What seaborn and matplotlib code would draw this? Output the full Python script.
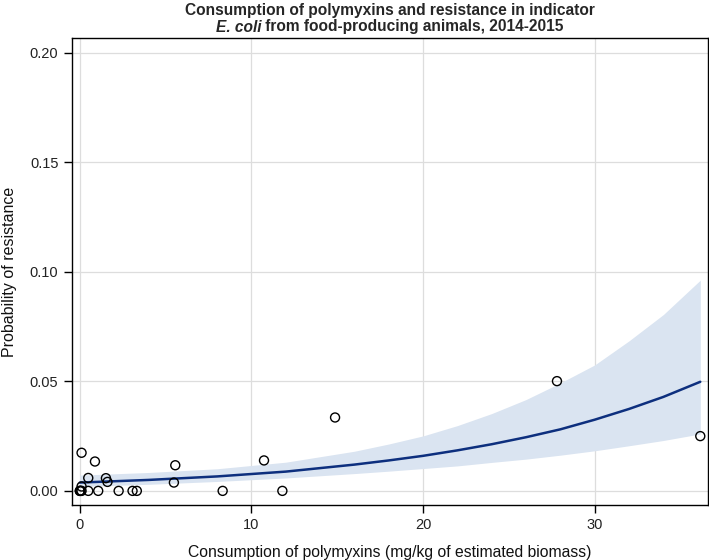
import numpy as np
import pandas as pd
import matplotlib
matplotlib.use("Agg")
import matplotlib.pyplot as plt
import seaborn as sns

# ----------------------------
# Data
# ----------------------------
consumption = [0.0, 0.0, 0.05, 0.1, 0.1, 0.1, 0.49, 0.49, 0.88, 1.07, 1.52, 1.61,
               2.26, 3.07, 3.32, 5.48, 5.56, 8.32, 10.73, 11.8, 14.87, 27.8, 36.15]
resistance = [0.0, 0.0, 0.0, 0.0, 0.0174, 0.002, 0.0, 0.0059, 0.0134, 0.0, 0.0058, 0.0041,
              0.0, 0.0, 0.0, 0.0038, 0.0117, 0.0, 0.0139, 0.0, 0.0335, 0.0501, 0.025]

# fitted curve and confidence band
fit_x = [0, 4, 8, 12, 16, 18, 20, 22, 24, 26, 28, 30, 32, 34, 36.15]
fit_y = [0.0038, 0.0050, 0.0066, 0.0088, 0.0120, 0.0139, 0.0160, 0.0185, 0.0213,
         0.0245, 0.0281, 0.0325, 0.0374, 0.0429, 0.0498]
fit_upper = [0.0072, 0.0084, 0.0101, 0.0131, 0.0181, 0.0214, 0.0251, 0.0298, 0.0353,
             0.0417, 0.0493, 0.0575, 0.0685, 0.0805, 0.0962]
fit_lower = [0.0020, 0.0030, 0.0043, 0.0059, 0.0079, 0.0090, 0.0102, 0.0114, 0.0130,
             0.0145, 0.0163, 0.0183, 0.0206, 0.0230, 0.0260]

x_ticks = [0, 10, 20, 30]
y_ticks = [0.00, 0.05, 0.10, 0.15, 0.20]

points = pd.DataFrame({"consumption": consumption, "resistance": resistance})
fit = pd.DataFrame({"x": fit_x, "y": fit_y, "lo": fit_lower, "hi": fit_upper})

# ----------------------------
# Style
# ----------------------------
sns.set_theme(style="whitegrid")
plt.rcParams["font.family"] = ["Liberation Sans", "DejaVu Sans"]

fig = plt.figure(figsize=(7.09, 5.6), dpi=100)
ax = fig.add_axes([0.101, 0.098, 0.8976, 0.834])

ax.fill_between(fit["x"], fit["lo"], fit["hi"], color="#dae4f1", linewidth=0, zorder=1)
sns.lineplot(data=fit, x="x", y="y", color="#0d2f7e", linewidth=1.8, ax=ax, zorder=3)
sns.scatterplot(data=points, x="consumption", y="resistance", ax=ax, s=42,
                facecolor="none", edgecolor="black", linewidth=1.0, zorder=4)

ax.set_xlim(-0.48, 36.6)
ax.set_ylim(-0.0065, 0.2067)
ax.set_xticks(x_ticks)
ax.set_yticks(y_ticks)
ax.set_xticklabels([str(t) for t in x_ticks])
ax.set_yticklabels([f"{t:.2f}" for t in y_ticks])

ax.grid(True, color="#dddddd", linewidth=0.9)
for side in ["left", "bottom", "top", "right"]:
    ax.spines[side].set_visible(True)
    ax.spines[side].set_color("black")
    ax.spines[side].set_linewidth(1.0)

ax.tick_params(axis="both", which="major", direction="out", length=5.5, width=1,
               color="black", labelsize=10.5, labelcolor="#222222",
               bottom=True, left=True, pad=4)

ax.set_xlabel("Consumption of polymyxins (mg/kg of estimated biomass)", fontsize=11.3,
              color="#111111", labelpad=9)
ax.set_ylabel("Probability of resistance", fontsize=11.5, color="#111111", labelpad=9)

# ----------------------------
# Two-line title, with italic species name
# ----------------------------
cx = 0.101 + 0.8976 / 2
fig.text(cx, 1 - 10 / 560, "Consumption of polymyxins and resistance in indicator",
         ha="center", va="center", fontsize=11.2, fontweight="bold")

renderer = fig.canvas.get_renderer()
part1 = fig.text(0, 1 - 27 / 560, "E. coli", ha="left", va="center", fontsize=11.2,
                 fontweight="bold", fontstyle="italic")
part2 = fig.text(0, 1 - 27 / 560, " from food-producing animals, 2014-2015", ha="left",
                 va="center", fontsize=11.2, fontweight="bold")
w1 = part1.get_window_extent(renderer).width / fig.bbox.width
w2 = part2.get_window_extent(renderer).width / fig.bbox.width
start = cx - (w1 + w2) / 2
part1.set_x(start)
part2.set_x(start + w1)

fig.savefig("out.png", dpi=100)
